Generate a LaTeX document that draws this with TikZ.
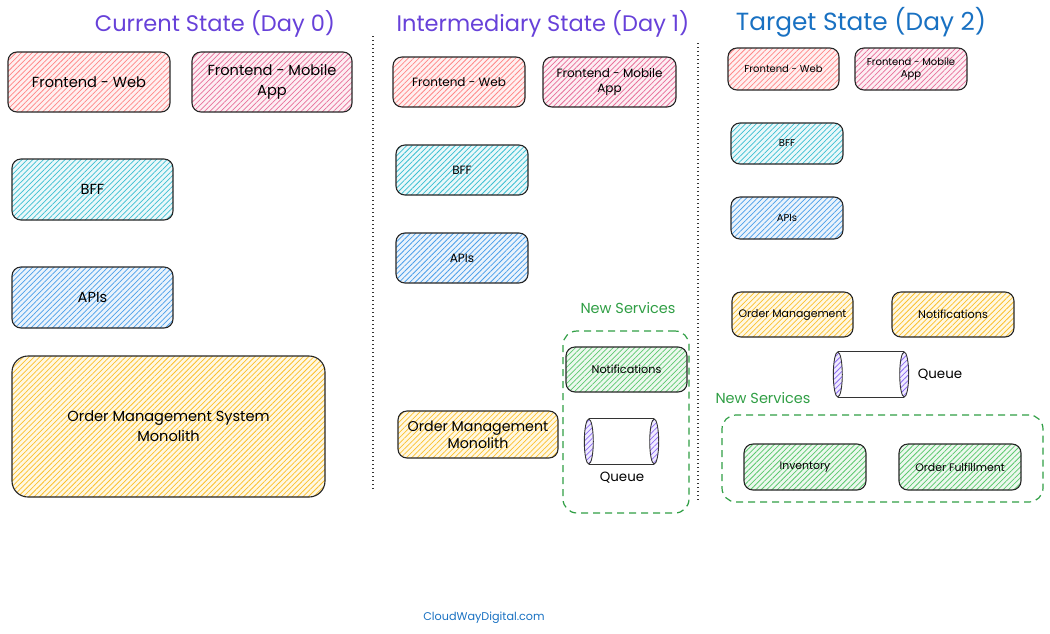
\documentclass[tikz,border=0pt]{standalone}
\usepackage{fontspec}
\setmainfont{Poppins}
\usetikzlibrary{patterns.meta}
\definecolor{redL}{HTML}{FF8787}\definecolor{redF}{HTML}{FFF0F0}
\definecolor{pinkL}{HTML}{E8709A}\definecolor{pinkF}{HTML}{FDEEF3}
\definecolor{cyanL}{HTML}{3BBFD2}\definecolor{cyanF}{HTML}{EAF8FA}
\definecolor{blueL}{HTML}{4A9EEA}\definecolor{blueF}{HTML}{EAF3FC}
\definecolor{yelL}{HTML}{FBC02D}\definecolor{yelF}{HTML}{FFF8E3}
\definecolor{grnL}{HTML}{5CC86E}\definecolor{grnF}{HTML}{ECF8EE}
\definecolor{purL}{HTML}{8C6CF2}\definecolor{purF}{HTML}{F0EBFF}
\definecolor{titleP}{HTML}{6741D9}
\definecolor{titleB}{HTML}{1971C2}
\definecolor{titleG}{HTML}{2F9E44}
\tikzset{
  box/.style={draw=black!85, line width=1.1pt, rounded corners=9pt, align=center, inner sep=2pt},
  hatch/.style 2 args={preaction={fill=#2}, pattern={Lines[angle=45,distance=3.8pt,line width=0.75pt]}, pattern color=#1},
  redbox/.style={box, hatch={redL}{redF}},
  pinkbox/.style={box, hatch={pinkL}{pinkF}},
  cyanbox/.style={box, hatch={cyanL}{cyanF}},
  bluebox/.style={box, hatch={blueL}{blueF}},
  yelbox/.style={box, hatch={yelL}{yelF}},
  grnbox/.style={box, hatch={grnL}{grnF}},
  group/.style={draw=titleG, line width=1.2pt, dash pattern=on 7pt off 5pt, rounded corners=14pt},
  sep/.style={line width=1.1pt, dash pattern=on 1pt off 3pt, black!80},
  qbody/.style={inner sep=0pt},
  qend/.style={draw=black!80, line width=0.9pt, hatch={purL}{purF}},
  fA/.style={font=\fontsize{14.6}{20}\selectfont},
  fB/.style={font=\fontsize{12}{15}\selectfont},
  fN/.style={font=\fontsize{11.2}{14}\selectfont},
  fC/.style={font=\fontsize{10}{12.5}\selectfont},
  fD/.style={font=\fontsize{10.9}{13}\selectfont},
  ttl/.style={font=\fontsize{22.5}{26}\selectfont},
  lbl/.style={font=\fontsize{14.5}{16}\selectfont, text=titleG},
  qlbl/.style={font=\fontsize{13.4}{15}\selectfont},
}
\begin{document}
\begin{tikzpicture}[x=1pt,y=-1pt]
\useasboundingbox (0,0) rectangle (1050,633);
% titles
\node[ttl, text=titleP] (t0) at (215,24) {Current State (Day 0)};
\node[ttl, text=titleP] (t1) at (543,24) {Intermediary State (Day 1)};
\node[ttl, text=titleB, font=\fontsize{24.8}{28}\selectfont] (t2) at (861,22) {Target State (Day 2)};
% separators
\coordinate (s1a) at (373,36); \coordinate (s1b) at (373,492);
\coordinate (s2a) at (698,43); \coordinate (s2b) at (698,500);
\draw[sep] (s1a) -- (s1b);
\draw[sep] (s2a) -- (s2b);
% column 1
\node[redbox, fA, minimum width=162pt, minimum height=60pt] (fw1) at (89,82) {Frontend - Web};
\node[pinkbox, fA, minimum width=160pt, minimum height=60pt] (fm1) at (272,82) {Frontend - Mobile\\App};
\node[cyanbox, fA, minimum width=161pt, minimum height=61pt] (bff1) at (92.5,189.5) {BFF};
\node[bluebox, fA, minimum width=161pt, minimum height=61pt] (api1) at (92.5,297.5) {APIs};
\node[yelbox, fA, minimum width=313pt, minimum height=141pt, rounded corners=16pt] (oms1) at (168.5,426.5) {Order Management System\\Monolith};
% column 2
\node[redbox, fB, minimum width=132pt, minimum height=50pt] (fw2) at (459,82) {Frontend - Web};
\node[pinkbox, fB, minimum width=133pt, minimum height=50pt] (fm2) at (609.5,82) {Frontend - Mobile\\App};
\node[cyanbox, fB, minimum width=132pt, minimum height=50pt] (bff2) at (462,170) {BFF};
\node[bluebox, fB, minimum width=132pt, minimum height=50pt] (api2) at (462,258) {APIs};
\node[yelbox, font=\fontsize{14.2}{17}\selectfont, minimum width=160pt, minimum height=47pt] (om2) at (478,434.5) {Order Management\\Monolith};
\node[group, minimum width=126pt, minimum height=182pt] (g2) at (626,422) {};
\node[lbl] (ns2) at (628,308) {New Services};
\node[grnbox, fN, minimum width=121pt, minimum height=45pt] (nt2) at (626.5,369.5) {Notifications};
\node[qbody, minimum width=65pt, minimum height=45pt] (q2) at (621.5,441.5) {};
\draw[black!80, line width=0.9pt] (q2.north west) -- (q2.north east) (q2.south west) -- (q2.south east);
\path[qend] (q2.west) ellipse [x radius=4.5pt, y radius=22.5pt];
\path[qend] (q2.east) ellipse [x radius=4.5pt, y radius=22.5pt];
\node[qlbl] (ql2) at (622,478) {Queue};
% column 3
\node[redbox, fC, minimum width=111pt, minimum height=42pt] (fw3) at (783.5,69) {Frontend - Web};
\node[pinkbox, fC, minimum width=112pt, minimum height=42pt] (fm3) at (911,69) {Frontend - Mobile\\App};
\node[cyanbox, fC, minimum width=112pt, minimum height=41pt] (bff3) at (787,143.5) {BFF};
\node[bluebox, fC, minimum width=112pt, minimum height=42pt] (api3) at (787,218) {APIs};
\node[yelbox, fD, minimum width=121pt, minimum height=45pt] (om3) at (792.5,314.5) {Order Management};
\node[yelbox, fN, minimum width=122pt, minimum height=45pt] (nt3) at (953,314.5) {Notifications};
\node[qbody, minimum width=66pt, minimum height=45pt] (q3) at (871,374.5) {};
\draw[black!80, line width=0.9pt] (q3.north west) -- (q3.north east) (q3.south west) -- (q3.south east);
\path[qend] (q3.west) ellipse [x radius=4.5pt, y radius=22.5pt];
\path[qend] (q3.east) ellipse [x radius=4.5pt, y radius=22.5pt];
\node[qlbl] (ql3) at (940,375) {Queue};
\node[lbl] (ns3) at (763,398) {New Services};
\node[group, minimum width=321pt, minimum height=87pt] (g3) at (882.5,458.5) {};
\node[grnbox, fD, minimum width=122pt, minimum height=46pt] (inv3) at (805,467) {Inventory};
\node[grnbox, fD, minimum width=122pt, minimum height=46pt] (of3) at (960,467) {Order Fulfillment};
% footer
\node[font=\fontsize{11.2}{13}\selectfont, text=titleB] (ft) at (484,618) {CloudWayDigital.com};
\end{tikzpicture}
\end{document}
